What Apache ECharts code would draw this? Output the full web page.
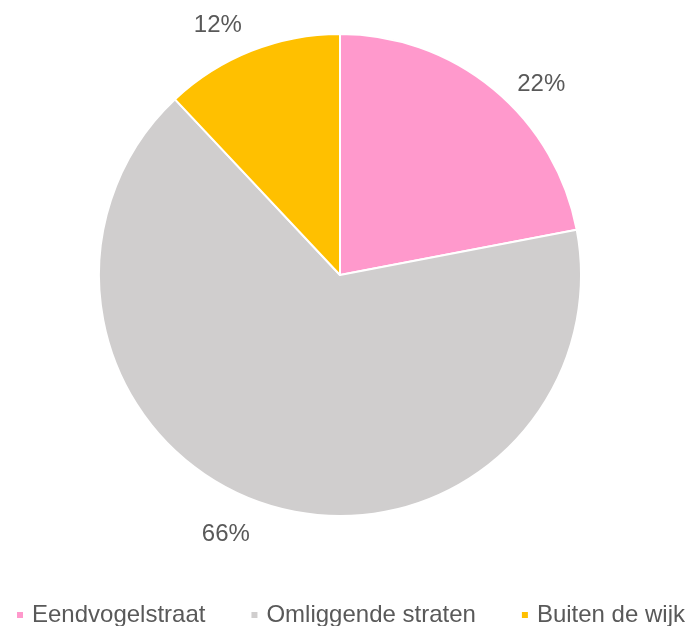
<!DOCTYPE html>
<html>
<head>
<meta charset="utf-8">
<script src="https://cdn.jsdelivr.net/npm/echarts@6/dist/echarts.min.js"></script>
<style>
  html, body { margin: 0; padding: 0; background: #fff; }
  #main { width: 690px; height: 626px; }
</style>
</head>
<body>
<div id="main"></div>
<script>
  // data
  var categories = ['Eendvogelstraat', 'Omliggende straten', 'Buiten de wijk'];
  var shares = [22, 66, 12];
  var colors = ['#FF99CC', '#D0CECE', '#FFC000'];

  // small nudges so the labels sit where Excel's "best fit" put them
  var labelShift = [[11, 4], [-7, 19], [0, -14]];

  var chart = echarts.init(document.getElementById('main'));

  var pieData = categories.map(function (name, i) {
    return { name: name, value: shares[i], itemStyle: { color: colors[i] } };
  });

  var font = 'Liberation Sans, Arial, sans-serif';

  var option = {
    animation: false,
    legend: {
      data: categories,
      left: 10,
      top: 598,
      icon: 'rect',
      itemWidth: 8,
      itemHeight: 8,
      itemGap: 44,
      textStyle: { color: '#595959', fontSize: 24, fontFamily: font, padding: [0, 0, 0, 3] }
    },
    series: [{
      type: 'pie',
      center: [340, 275],
      radius: 241,
      startAngle: 90,
      clockwise: true,
      itemStyle: { borderColor: '#fff', borderWidth: 2 },
      label: {
        show: true,
        position: 'outside',
        formatter: '{c}%',
        color: '#595959',
        fontSize: 24,
        fontFamily: font
      },
      labelLine: { show: false, length: 12, length2: 0 },
      labelLayout: function (p) {
        var s = labelShift[p.dataIndex];
        return { dx: s[0], dy: s[1] };
      },
      data: pieData
    }]
  };

  chart.setOption(option);
</script>
</body>
</html>
